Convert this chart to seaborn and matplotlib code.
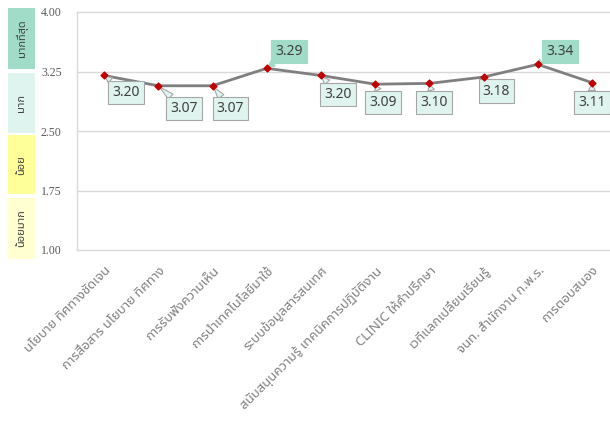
import matplotlib
matplotlib.use("Agg")
import matplotlib.pyplot as plt
import matplotlib.transforms as mtransforms
from matplotlib import font_manager
from matplotlib.ft2font import FT2Font
from matplotlib.patches import Rectangle
import seaborn as sns
import pandas as pd

# data
categories = [
    "นโยบาย ทิศทางชัดเจน",
    "การสื่อสาร นโยบาย ทิศทาง",
    "การรับฟังความเห็น",
    "การนำเทคโนโลยีมาใช้",
    "ระบบข้อมูลสารสนเทศ",
    "สนับสนุนความรู้ เทคนิคการปฏิบัติงาน",
    "CLINIC ให้คำปรึกษา",
    "เวทีแลกเปลี่ยนเรียนรู้",
    "จนท. สำนักงาน ก.พ.ร.",
    "การตอบสนอง",
]
scores = [3.20, 3.07, 3.07, 3.29, 3.20, 3.09, 3.10, 3.18, 3.34, 3.11]
y_ticks = [1.00, 1.75, 2.50, 3.25, 4.00]
band_labels = ["มากที่สุด", "มาก", "น้อย", "น้อยมาก"]

# layout: label offsets in pixels
label_offsets = [(22, -17), (26, -23), (18, -23), (22, 17), (17, -19),
                 (8, -18), (5, -19), (13, -14), (22, 13), (0, -20)]
band_spans = [(3.28, 4.05), (2.48, 3.23), (1.70, 2.45), (0.89, 1.66)]
band_colors = ["#a0dcc8", "#e0f4ef", "#ffff99", "#ffffd2"]


def find_thai_font():
    preferred = ["Noto Sans Thai", "Noto Sans Thai Looped", "Loma", "Garuda",
                 "Tahoma", "Leelawadee UI", "Sarabun", "Kinnari", "Norasi"]
    found = []
    for f in font_manager.fontManager.ttflist:
        try:
            if 0x0E01 in FT2Font(f.fname).get_charmap():
                found.append(f.name)
        except Exception:
            pass
    for name in preferred:
        if name in found:
            return name
    return found[0] if found else None


sns.set_style("white")
thai = find_thai_font()
fams = ["DejaVu Sans"]
if thai:
    fams = [thai, "DejaVu Sans"]
plt.rcParams["font.family"] = fams

df = pd.DataFrame({"pos": range(len(categories)), "score": scores})

fig = plt.figure(figsize=(6.1, 4.25), dpi=100)
ax = fig.add_axes([77 / 610, 1 - 250 / 425, 542 / 610, 238 / 425])

sns.lineplot(data=df, x="pos", y="score", ax=ax, color="#7f7f7f",
             linewidth=2, sort=False, zorder=3)
ax.scatter(df["pos"], df["score"], marker="D", s=12, color="#c00000", zorder=6)

ax.set_xlim(-0.5, len(categories) - 0.5)
ax.set_ylim(1.0, 4.0)
ax.set_yticks(y_ticks)
ax.set_yticklabels([f"{v:.2f}" for v in y_ticks], fontsize=8.5, color="#595959",
                   family="Liberation Serif")
ax.tick_params(axis="y", length=0, pad=11)
ax.set_xticks(range(len(categories)))
ax.set_xticklabels(categories, rotation=45, ha="right", rotation_mode="anchor",
                   fontsize=9.5, color="#7f7f7f")
ax.tick_params(axis="x", length=0, pad=10)
ax.set_xlabel("")
ax.set_ylabel("")
for s in ax.spines.values():
    s.set_color("#d9d9d9")
    s.set_linewidth(1)
for v in y_ticks[1:-1]:
    ax.axhline(v, color="#d9d9d9", linewidth=1, zorder=1)

# value callouts
for i, (v, off) in enumerate(zip(scores, label_offsets)):
    up = off[1] > 0
    fc = "#a0dcc8" if up else "#e0f4ef"
    ec = "#a0dcc8" if up else "#a6a6a6"
    ax.annotate(f"{v:.2f}", xy=(i, v), xytext=off, textcoords="offset pixels",
                ha="center", va="center", fontsize=10, color="#404040",
                bbox=dict(boxstyle="square,pad=0.3", facecolor=fc,
                          edgecolor=ec, linewidth=0.8),
                arrowprops=dict(arrowstyle="wedge,tail_width=0.5", fc=fc,
                                ec=ec, linewidth=0.8, shrinkA=0, shrinkB=1),
                zorder=5)

# rating bands on the left
trans = mtransforms.blended_transform_factory(fig.transFigure, ax.transData)
for (lo, hi), col, lab in zip(band_spans, band_colors, band_labels):
    ax.add_patch(Rectangle((8 / 610, lo), 27 / 610, hi - lo, transform=trans,
                           facecolor=col, edgecolor="none", clip_on=False))
    ax.text(21.5 / 610, (lo + hi) / 2, lab, transform=trans, rotation=90,
            ha="center", va="center", fontsize=8, color="#404040")

fig.savefig("out.png", dpi=100)
